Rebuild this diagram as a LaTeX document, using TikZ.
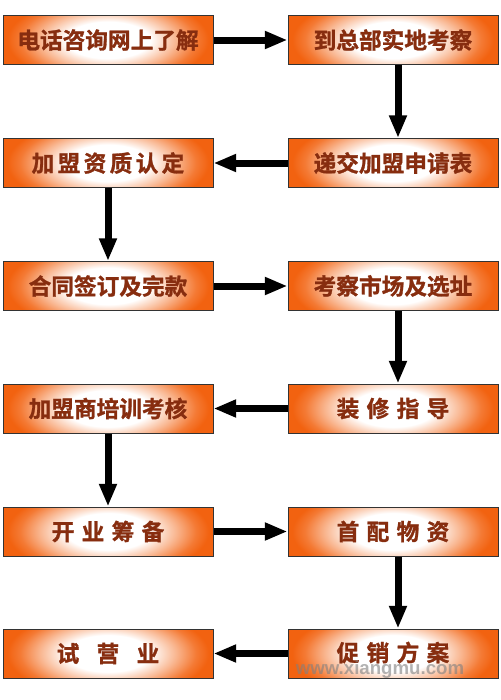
\documentclass[tikz,border=0pt]{standalone}
\usepackage{fontspec}
\newfontfamily\cjk{Noto Sans CJK SC}[BoldFont={Noto Sans CJK SC Bold}, BoldFeatures={FakeBold=1.2}]
\newfontfamily\markfont{Liberation Sans}
\usetikzlibrary{arrows.meta}

\definecolor{boxorange}{RGB}{242,98,16}
\definecolor{stepbrown}{RGB}{135,45,15}
% the middle 50bp square of a shading is fitted to the path
\pgfdeclareradialshading{boxglow}{\pgfpoint{0bp}{0bp}}{color(0bp)=(white); color(10bp)=(white); color(16bp)=(boxorange!45!white); color(21bp)=(boxorange!85!white); color(24bp)=(boxorange); color(50bp)=(boxorange)}

\tikzset{every picture/.style={line width=0.75pt}}
\tikzset{
  stepbox/.style={draw=black!80, line width=0.75pt, minimum width=157.5pt, minimum height=36.75pt, inner sep=0pt,
    font=\cjk\bfseries\fontsize{17pt}{17pt}\selectfont, text=stepbrown,
    path picture={\shade[shading=boxglow] ([yshift=-16pt]path picture bounding box.south west) rectangle ([yshift=16pt]path picture bounding box.north east);}},
  flow/.style={line width=5.25pt, -{Triangle[length=17pt,width=12.5pt]}},
  wmark/.style={inner sep=0pt, font=\markfont\bfseries\fontsize{14pt}{14pt}\selectfont, text=gray, text opacity=0.6}
}

\begin{document}
\begin{tikzpicture}[x=0.75pt,y=0.75pt,yscale=-1,xscale=1]
    \useasboundingbox (0,0) rectangle (500,700);

    % Left column
    \draw (108,40) node [stepbox] (consult) {电话咨询网上了解};
    \draw (108,163) node [stepbox] (qualify) {加\hspace{2.5pt}盟\hspace{2.5pt}资\hspace{2.5pt}质\hspace{2.5pt}认\hspace{2.5pt}定};
    \draw (108,286) node [stepbox] (contract) {合同签订及完款};
    \draw (108,408.5) node [stepbox] (train) {加盟商培训考核};
    \draw (108,531.5) node [stepbox] (prepare) {开\hspace{5.5pt}业\hspace{5.5pt}筹\hspace{5.5pt}备};
    \draw (108,653.5) node [stepbox] (trial) {试\hspace{13pt}营\hspace{13pt}业};

    % Right column
    \draw (393,40) node [stepbox] (visit) {到总部实地考察};
    \draw (393,163) node [stepbox] (apply) {递交加盟申请表};
    \draw (393,286) node [stepbox] (site) {考察市场及选址};
    \draw (393,408.5) node [stepbox] (decorate) {装\hspace{5.5pt}修\hspace{5.5pt}指\hspace{5.5pt}导};
    \draw (393,531.5) node [stepbox] (stock) {首\hspace{5.5pt}配\hspace{5.5pt}物\hspace{5.5pt}资};
    \draw (393,653.5) node [stepbox] (promo) {\raisebox{3pt}{促\hspace{5.5pt}销\hspace{5.5pt}方\hspace{5.5pt}案}};

    % Text Node
    \draw (380,670) node [wmark] (water) {www.xiangmu.com};

    % Arrows
    \draw [flow] (consult.east) -- (visit.west);
    \draw [flow] ([xshift=3.75pt]visit.south) -- ([xshift=3.75pt]apply.north);
    \draw [flow] (apply.west) -- (qualify.east);
    \draw [flow] (qualify.south) -- (contract.north);
    \draw [flow] (contract.east) -- (site.west);
    \draw [flow] ([xshift=3.75pt]site.south) -- ([xshift=3.75pt]decorate.north);
    \draw [flow] (decorate.west) -- (train.east);
    \draw [flow] (train.south) -- (prepare.north);
    \draw [flow] (prepare.east) -- (stock.west);
    \draw [flow] ([xshift=3.75pt]stock.south) -- ([xshift=3.75pt]promo.north);
    \draw [flow] (promo.west) -- (trial.east);

\end{tikzpicture}
\end{document}
